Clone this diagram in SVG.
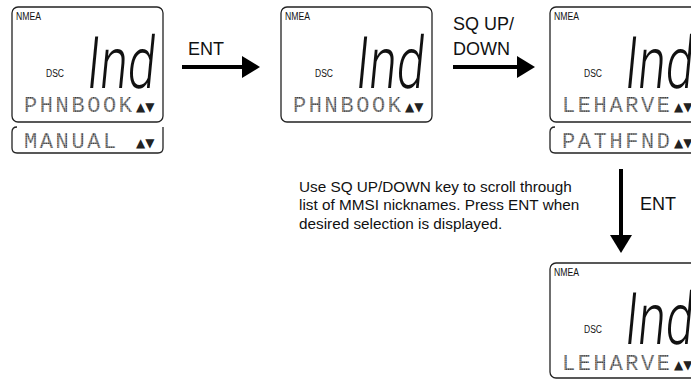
<svg xmlns="http://www.w3.org/2000/svg" width="691" height="379" viewBox="0 0 691 379">
<style>
.lcd{fill:#fff;stroke:#222;stroke-width:1.3}
.menu{fill:none;stroke:#222;stroke-width:1.3}
.small{font-family:"Liberation Sans",Arial,sans-serif;font-size:10px;fill:#111}
.big{font-family:Roboto,"Liberation Sans",Arial,sans-serif;font-weight:300;font-size:50px;fill:#111}
.dot{font-family:"Liberation Mono","DejaVu Sans Mono",monospace;font-size:22px;fill:url(#dots);letter-spacing:2.6px}
.arw{font-family:"DejaVu Sans",sans-serif;font-size:12px;fill:#222;letter-spacing:0px}
.lbl{font-family:"Liberation Sans",Arial,sans-serif;font-size:18px;fill:#111}
.para{font-family:"Liberation Sans",Arial,sans-serif;font-size:15.3px;fill:#111}
.conn{stroke:#000;stroke-width:4;fill:none}
</style>
<defs>
<pattern id="dots" patternUnits="userSpaceOnUse" width="1.8" height="1.8">
<rect width="1.8" height="1.8" fill="#bbb"/>
<rect width="1.3" height="1.3" fill="#333"/>
</pattern>
<marker id="ah" markerUnits="userSpaceOnUse" markerWidth="20" markerHeight="22" refX="8" refY="11" orient="auto">
<path d="M0,0 L18,11 L0,22 Z" fill="#000"/>
</marker>
</defs>

<g id="screen1" transform="translate(12,7)">
<rect class="lcd" x="0" y="0" width="151" height="115" rx="6"/>
<text class="small" x="4" y="13" textLength="25" lengthAdjust="spacingAndGlyphs">NMEA</text>
<text class="small" x="34" y="70" textLength="18" lengthAdjust="spacingAndGlyphs">DSC</text>
<text class="big" transform="translate(73,81) scale(1,1.45) skewX(-8)">Ind</text>
<text class="dot" x="12" y="105">PHNBOOK</text>
<text class="arw" x="124" y="104">▲▼</text>
</g>
<g id="menu1" transform="translate(12,127)">
<path class="menu" d="M5,0 Q0,0 0,5 V21 Q0,26 5,26 H146 Q151,26 151,21 V0"/>
<text class="dot" x="12" y="21">MANUAL</text>
<text class="arw" x="124" y="20">▲▼</text>
</g>

<g id="screen2" transform="translate(281,7)">
<rect class="lcd" x="0" y="0" width="151" height="115" rx="6"/>
<text class="small" x="4" y="13" textLength="25" lengthAdjust="spacingAndGlyphs">NMEA</text>
<text class="small" x="34" y="70" textLength="18" lengthAdjust="spacingAndGlyphs">DSC</text>
<text class="big" transform="translate(73,81) scale(1,1.45) skewX(-8)">Ind</text>
<text class="dot" x="12" y="105">PHNBOOK</text>
<text class="arw" x="124" y="104">▲▼</text>
</g>

<g id="screen3" transform="translate(550,7)">
<rect class="lcd" x="0" y="0" width="151" height="115" rx="6"/>
<text class="small" x="4" y="13" textLength="25" lengthAdjust="spacingAndGlyphs">NMEA</text>
<text class="small" x="34" y="70" textLength="18" lengthAdjust="spacingAndGlyphs">DSC</text>
<text class="big" transform="translate(73,81) scale(1,1.45) skewX(-8)">Ind</text>
<text class="dot" x="12" y="105">LEHARVE</text>
<text class="arw" x="124" y="104">▲▼</text>
</g>
<g id="menu3" transform="translate(550,127)">
<path class="menu" d="M5,0 Q0,0 0,5 V21 Q0,26 5,26 H146 Q151,26 151,21 V0"/>
<text class="dot" x="12" y="21">PATHFND</text>
<text class="arw" x="124" y="20">▲▼</text>
</g>

<g id="screen4" transform="translate(550,263)">
<rect class="lcd" x="0" y="0" width="151" height="115" rx="6"/>
<text class="small" x="4" y="13" textLength="25" lengthAdjust="spacingAndGlyphs">NMEA</text>
<text class="small" x="34" y="70" textLength="18" lengthAdjust="spacingAndGlyphs">DSC</text>
<text class="big" transform="translate(73,81) scale(1,1.45) skewX(-8)">Ind</text>
<text class="dot" x="12" y="107">LEHARVE</text>
<text class="arw" x="124" y="106">▲▼</text>
</g>

<g id="connectors">
<line class="conn" x1="182" y1="67" x2="250" y2="67" marker-end="url(#ah)"/>
<line class="conn" x1="453" y1="67" x2="525" y2="67" marker-end="url(#ah)"/>
<line class="conn" x1="621" y1="169" x2="621" y2="243" marker-end="url(#ah)"/>
</g>

<g id="labels">
<text class="lbl" x="188" y="55">ENT</text>
<text class="lbl" x="453" y="30">SQ UP/</text>
<text class="lbl" x="453" y="55">DOWN</text>
<text class="lbl" x="640" y="210">ENT</text>
<text class="para" x="299" y="192">Use SQ UP/DOWN key to scroll through</text>
<text class="para" x="299" y="210">list of MMSI nicknames. Press ENT when</text>
<text class="para" x="299" y="229">desired selection is displayed.</text>
</g>
</svg>
